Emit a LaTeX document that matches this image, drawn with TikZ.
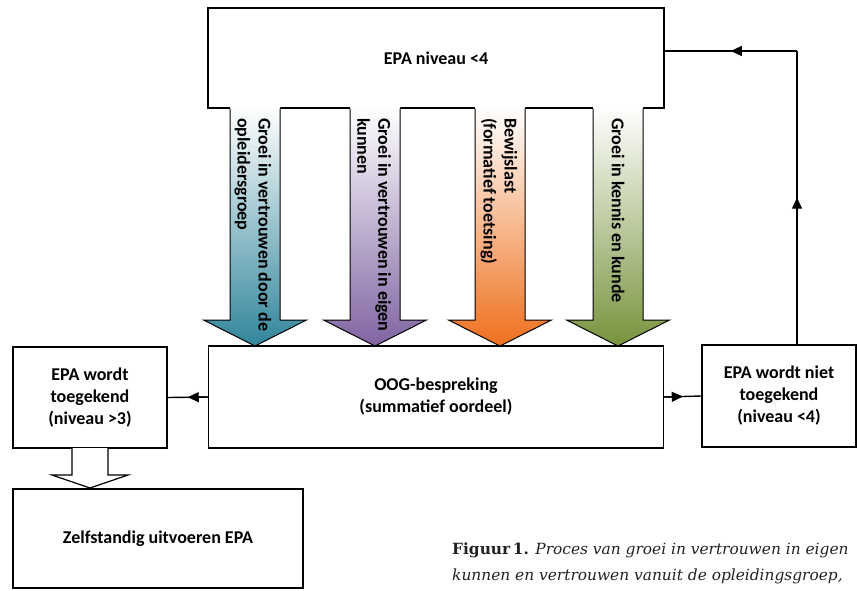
\documentclass[tikz,border=0pt]{standalone}
\usepackage{fontspec}
\setmainfont{Carlito}
\newfontfamily\capfont{DejaVu Serif}
\usetikzlibrary{arrows.meta,calc}
\definecolor{cteal}{RGB}{49,133,155}
\definecolor{cpurple}{RGB}{128,100,162}
\definecolor{corange}{RGB}{238,112,30}
\definecolor{cgreen}{RGB}{119,147,60}
\definecolor{captc}{RGB}{34,34,34}
\tikzset{
  box/.style={draw=black, line width=1.2pt, fill=white, align=center,
    font=\bfseries\fontsize{18}{22}\selectfont, inner sep=0pt},
  conn/.style={line width=1.4pt},
  connarrow/.style={line width=1.4pt, -{Triangle[length=11pt,width=10pt]}},
  arrowtext/.style={rotate=-90, anchor=west, align=left,
    font=\bfseries\fontsize{18}{21}\selectfont, inner sep=0pt},
  arrowline/.style={draw=black, line width=1pt},
}
\newcommand\bigdownarrow[2]{%
  \shade[top color=white, bottom color=#2]
    ({#1-25},107) -- ({#1-25},320) -- ({#1-51.5},320) -- (#1,346) --
    ({#1+51.5},320) -- ({#1+25},320) -- ({#1+25},107) -- cycle;
  \draw[arrowline]
    ({#1-25},108.6) -- ({#1-25},320) -- ({#1-51.5},320) -- (#1,346) --
    ({#1+51.5},320) -- ({#1+25},320) -- ({#1+25},108.6);
}
\begin{document}
\begin{tikzpicture}[x=1pt,y=-1pt]
\useasboundingbox (0,0) rectangle (858,590);

% boxes
\node[box, minimum width=456pt, minimum height=100pt] (top) at (436,58) {EPA niveau <4};
\node[box, minimum width=455pt, minimum height=102pt] (oog) at (436,397)
  {OOG-bespreking\\(summatief oordeel)};
\node[box, minimum width=154pt, minimum height=101pt] (lbox) at (90,397.5)
  {EPA wordt\\toegekend\\(niveau >3)};
\node[box, minimum width=154pt, minimum height=102pt] (rbox) at (779,396)
  {EPA wordt niet\\toegekend\\(niveau <4)};
\node[box, minimum width=290pt, minimum height=99pt] (zelf) at (158,538.5)
  {Zelfstandig uitvoeren EPA};

% gradient block arrows
\bigdownarrow{255}{cteal}
\bigdownarrow{375}{cpurple}
\bigdownarrow{500}{corange}
\bigdownarrow{618}{cgreen}

\node[arrowtext] (t1) at (253,118) {Groei in vertrouwen door de\\opleidersgroep};
\node[arrowtext] (t2) at (374,118) {Groei in vertrouwen in eigen\\kunnen};
\node[arrowtext] (t3) at (499,118) {Bewijslast\\(formatief toetsing)};
\node[arrowtext] (t4) at (618,118) {Groei in kennis en kunde};

% white block arrow
\filldraw[fill=white, arrowline, line width=1.2pt]
  (72,448) -- (72,475) -- (52,475) -- (90,488) -- (128,475) -- (108,475) -- (108,448);

% connectors (arrowhead in the middle of each segment)
\coordinate (m1) at ($(oog.west)!0.5!(lbox.east)$);
\draw[conn] (oog.west) -- (lbox.east);
\draw[connarrow] (oog.west) -- (m1);
\coordinate (m2) at ($(oog.east)!0.5!(rbox.west)$);
\draw[conn] (oog.east) -- (rbox.west);
\draw[connarrow] (oog.east) -- (m2);
\coordinate (c) at (797,51);
\coordinate (m3) at ($(rbox.north -| c)!0.5!(c)$);
\draw[conn] (rbox.north -| c) -- (c);
\draw[connarrow] (rbox.north -| c) -- (m3);
\coordinate (m4) at ($(c)!0.5!(c -| top.east)$);
\draw[conn] (c) -- (c -| top.east);
\draw[connarrow] (c) -- (m4);

% caption
\node[anchor=north west, align=left, inner sep=0pt, text=captc,
  font=\capfont\fontsize{15.4}{26}\selectfont] (cap) at (452,543)
  {\textbf{Figuur\,1.} \textit{Proces van groei in vertrouwen in eigen}\\
   \textit{kunnen en vertrouwen vanuit de opleidingsgroep,}};
\end{tikzpicture}
\end{document}
